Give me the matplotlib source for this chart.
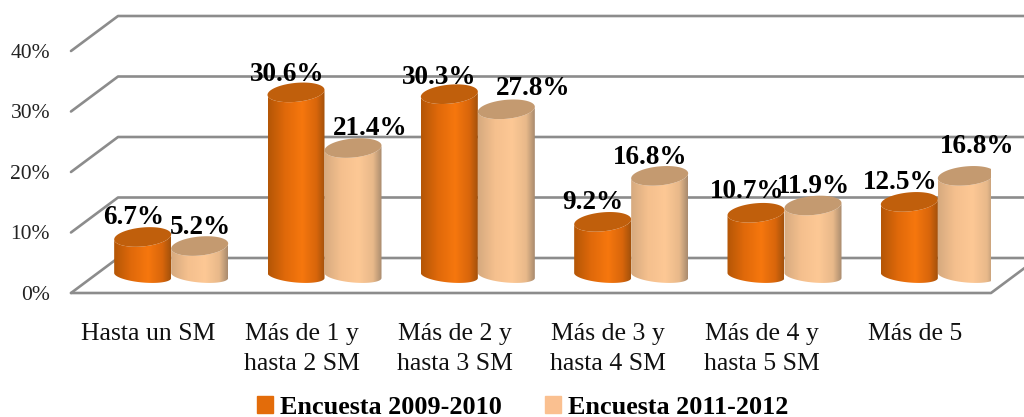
import numpy as np
import matplotlib.pyplot as plt
from matplotlib.colors import LinearSegmentedColormap
from matplotlib.patches import Patch, Polygon

plt.rcParams["font.family"] = ["Liberation Serif", "DejaVu Serif"]

categories = ["Hasta un SM", "Más de 1 y\nhasta 2 SM", "Más de 2 y\nhasta 3 SM",
              "Más de 3 y\nhasta 4 SM", "Más de 4 y\nhasta 5 SM", "Más de 5"]
series_names = ["Encuesta 2009-2010", "Encuesta 2011-2012"]
values_2009 = [6.7, 30.6, 30.3, 9.2, 10.7, 12.5]
values_2011 = [5.2, 21.4, 27.8, 16.8, 11.9, 16.8]
y_ticks = [0, 10, 20, 30, 40]

# label nudges in pixels, the original labels are placed by hand
nudge_2009 = [(-9, 19), (-9, 18), (-10, 17), (-10, 19), (-9, 21), (-9, 19)]
nudge_2011 = [(1, 19), (17, 20), (27, 21), (-10, 18), (0, 19), (11, 29)]

orange = LinearSegmentedColormap.from_list("orange", [
    (0, "#b45606"), (0.3, "#e0690a"), (0.6, "#f6770e"), (0.85, "#d9660b"), (1, "#a4520c")])
peach = LinearSegmentedColormap.from_list("peach", [
    (0, "#d6aa7f"), (0.3, "#f5c08e"), (0.6, "#fdc895"), (0.85, "#e8b98a"), (1, "#a98b6e")])
cap_colors = ["#c05f0c", "#c49a70"]
legend_colors = ["#e36c0a", "#fac090"]

fig = plt.figure(figsize=(10.24, 4.17), dpi=100)
# y=0 sits at pixel 293, 40% at pixel 51, six categories span 920 px
ax = fig.add_axes([71 / 1024, (417 - 293) / 417, 920 / 1024, 242 / 417])

px_x = 6 / 920
px_y = 40 / 242
depth_x = 47 * px_x
depth_y = 35 * px_y
half_w = 28.5 * px_x
ell_top = 9.5 * px_y
ell_bottom = 7 * px_y
tilt = 2.5 * px_y
top_drop = 2 * px_y

# floor and wall lines
grid = dict(color="#8c8c8c", lw=1.9, clip_on=False, solid_capstyle="round", zorder=1)
for t in y_ticks:
    ax.plot([0, depth_x, 6 + depth_x], [t, t + depth_y, t + depth_y], **grid)
    ax.text(-21 * px_x, t - 2 * px_y, f"{t}%", ha="right", va="center", fontsize=15.5, color="#222222")
ax.plot([0, 6, 6 + depth_x], [0, 0, depth_y], **grid)


def cylinder(cx, top, cmap, cap):
    t = np.linspace(0, np.pi, 60)
    base = depth_y / 2
    upper = top + base - top_drop
    # front edge of the bottom, going left to right
    xb = cx - half_w * np.cos(t)
    yb = base - ell_bottom * np.sin(t) + tilt * np.cos(t)
    xt = xb[::-1]
    yt = upper - ell_top * np.sin(t) - tilt * np.cos(t)
    body = Polygon(np.column_stack([np.r_[xb, xt], np.r_[yb, yt[::-1]]]),
                   closed=True, transform=ax.transData, fc="none", ec="none")
    ax.add_patch(body)
    img = ax.imshow(np.linspace(0, 1, 128).reshape(1, -1), cmap=cmap, aspect="auto",
                    extent=[cx - half_w, cx + half_w, base - ell_bottom * 2, upper + ell_top],
                    zorder=2, interpolation="bilinear")
    img.set_clip_path(body)
    s = np.linspace(0, 2 * np.pi, 100)
    ax.add_patch(Polygon(np.column_stack([cx + half_w * np.cos(s),
                                          upper + ell_top * np.sin(s) + tilt * np.cos(s)]),
                         closed=True, fc=cap, ec="none", zorder=2))


for i in range(len(categories)):
    center = i + 0.5 + depth_x / 2
    for j, vals in enumerate([values_2009, values_2011]):
        cx = center + (j - 0.5) * 2 * half_w
        cylinder(cx, vals[i], [orange, peach][j], cap_colors[j])

for i in range(len(categories)):
    center = i + 0.5 + depth_x / 2
    for j, (vals, nudge) in enumerate([(values_2009, nudge_2009), (values_2011, nudge_2011)]):
        cx = center + (j - 0.5) * 2 * half_w
        ax.annotate(f"{vals[i]}%", (cx, vals[i] + depth_y / 2),
                    xytext=(nudge[i][0], nudge[i][1] - 2),
                    textcoords="offset pixels", ha="center", va="center",
                    fontsize=19.5, fontweight="bold", color="black", zorder=5)
    ax.text(center - 23 * px_x, -41 * px_y, categories[i].split("\n")[0], ha="center", va="center",
            fontsize=18.5, color="#111111")
    if "\n" in categories[i]:
        ax.text(center - 23 * px_x, -71 * px_y, categories[i].split("\n")[1], ha="center", va="center",
                fontsize=18.5, color="#111111")

ax.set_xlim(0, 6)
ax.set_ylim(0, 40)
ax.axis("off")

handles = [Patch(color=c, label=n) for c, n in zip(legend_colors, series_names)]
fig.legend(handles=handles, loc="center", bbox_to_anchor=(523 / 1024, 1 - 407 / 417), ncol=2,
           frameon=False, handlelength=0.6, handleheight=0.6, handletextpad=0.28,
           columnspacing=1.65, prop=dict(weight="bold", size=18.8), borderpad=0)

fig.savefig("out.png", dpi=100, facecolor="white")
